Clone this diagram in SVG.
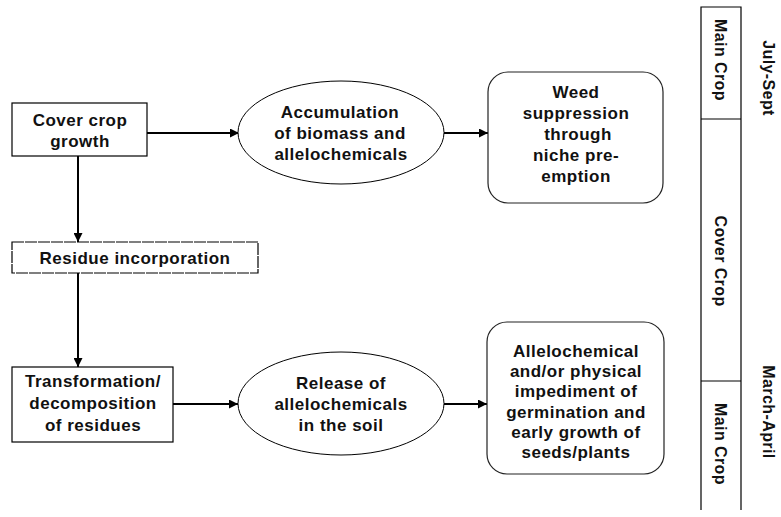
<svg xmlns="http://www.w3.org/2000/svg" width="781" height="517" viewBox="0 0 781 517">
<defs>
<marker id="ah" viewBox="0 0 10 10" refX="10" refY="5" markerWidth="4.5" markerHeight="4.5" orient="auto" markerUnits="strokeWidth">
<path d="M0,0 L10,5 L0,10 Z" fill="#000"/>
</marker>
<style>
.t{font-family:"Liberation Sans",Arial,sans-serif;font-weight:bold;font-size:17px;letter-spacing:0.5px;fill:#111;text-anchor:middle}
.v{font-size:16px;letter-spacing:0.4px}
.box{fill:#fff;stroke:#000;stroke-width:1.2}
.ell{fill:#fff;stroke:#000;stroke-width:1}
.rr{fill:#fff;stroke:#222;stroke-width:1.2}
.con{stroke:#000;stroke-width:2;fill:none;marker-end:url(#ah)}
.col{fill:none;stroke:#000;stroke-width:1.2}
</style>
</defs>
<rect width="781" height="517" fill="#fff"/>

<g id="connectors">
<line class="con" x1="147" y1="133" x2="239" y2="133"/>
<line class="con" x1="444" y1="133" x2="488" y2="133"/>
<line class="con" x1="78" y1="156" x2="78" y2="242"/>
<line class="con" x1="78" y1="273" x2="78" y2="367"/>
<line class="con" x1="173" y1="404" x2="238" y2="404"/>
<line class="con" x1="444" y1="404" x2="487" y2="404"/>
</g>

<g id="cover-crop-growth">
<rect class="box" x="12" y="103" width="135" height="53"/>
<text class="t" x="80" y="126">Cover crop</text>
<text class="t" x="80" y="147">growth</text>
</g>

<g id="accumulation">
<ellipse class="ell" cx="341" cy="132.5" rx="103" ry="51.5"/>
<text class="t" x="340" y="118">Accumulation</text>
<text class="t" x="340" y="139">of biomass and</text>
<text class="t" x="341" y="160">allelochemicals</text>
</g>

<g id="weed-suppression">
<rect class="rr" x="488" y="72" width="175" height="131" rx="20" ry="20"/>
<text class="t" x="576" y="98">Weed</text>
<text class="t" x="576" y="119">suppression</text>
<text class="t" x="578" y="140">through</text>
<text class="t" x="576" y="161">niche pre-</text>
<text class="t" x="576" y="182">emption</text>
</g>

<g id="residue-incorporation">
<rect class="box" x="12" y="242" width="246" height="31" stroke-width="1.5" stroke-dasharray="12 1"/>
<text class="t" x="135" y="264">Residue incorporation</text>
</g>

<g id="transformation">
<rect class="box" x="12" y="367" width="161" height="75"/>
<text class="t" x="93" y="387">Transformation/</text>
<text class="t" x="93" y="409">decomposition</text>
<text class="t" x="93" y="431">of residues</text>
</g>

<g id="release">
<ellipse class="ell" cx="341" cy="403.5" rx="103" ry="51.5"/>
<text class="t" x="341" y="389">Release of</text>
<text class="t" x="341" y="410">allelochemicals</text>
<text class="t" x="341" y="431">in the soil</text>
</g>

<g id="allelochemical-impediment">
<rect class="rr" x="487" y="322" width="177" height="152" rx="20" ry="20"/>
<text class="t" x="576" y="357">Allelochemical</text>
<text class="t" x="576" y="377">and/or physical</text>
<text class="t" x="576" y="397">impediment of</text>
<text class="t" x="576" y="418">germination and</text>
<text class="t" x="576" y="438">early growth of</text>
<text class="t" x="576" y="458">seeds/plants</text>
</g>

<g id="timeline">
<path class="col" d="M701,510 V7 H741 V510"/>
<line class="col" x1="701" y1="119" x2="741" y2="119"/>
<line class="col" x1="701" y1="381" x2="741" y2="381"/>
<text class="t v" transform="translate(715,60) rotate(90)">Main Crop</text>
<text class="t v" transform="translate(715,261) rotate(90)">Cover Crop</text>
<text class="t v" transform="translate(715,444) rotate(90)">Main Crop</text>
<text class="t v" transform="translate(763,78) rotate(90)">July-Sept</text>
<text class="t v" transform="translate(763,412) rotate(90)">March-April</text>
</g>
</svg>
